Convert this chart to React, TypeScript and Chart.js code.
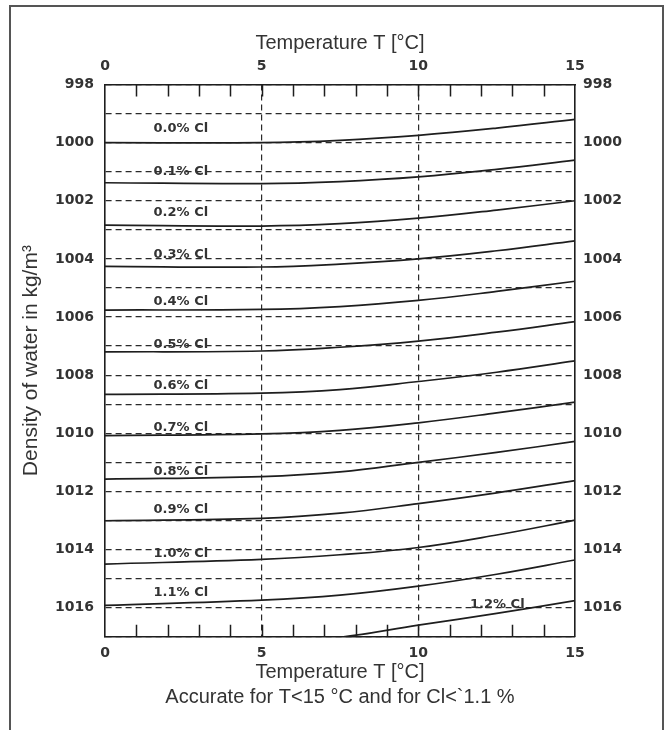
import React, { useEffect, useRef } from 'react';
import { Chart, registerables } from 'chart.js';

Chart.register(...registerables);

// Temperatures (°C) at which the curves were read
const temperatures = [0, 5, 7.5, 10, 12.5, 15];

// Density of water (kg/m³) per chloride content
const cl00 = [1000.0, 1000.0, 999.92, 999.75, 999.5, 999.2];
const cl01 = [1001.38, 1001.41, 1001.34, 1001.18, 1000.92, 1000.6];
const cl02 = [1002.84, 1002.87, 1002.79, 1002.6, 1002.32, 1002.0];
const cl03 = [1004.26, 1004.28, 1004.18, 1004.0, 1003.72, 1003.38];
const cl04 = [1005.76, 1005.74, 1005.64, 1005.43, 1005.12, 1004.77];
const cl05 = [1007.2, 1007.17, 1007.04, 1006.83, 1006.52, 1006.16];
const cl06 = [1008.66, 1008.62, 1008.5, 1008.22, 1007.9, 1007.51];
const cl07 = [1010.08, 1010.02, 1009.9, 1009.64, 1009.3, 1008.93];
const cl08 = [1011.58, 1011.49, 1011.33, 1011.0, 1010.66, 1010.28];
const cl09 = [1013.01, 1012.93, 1012.75, 1012.42, 1012.05, 1011.63];
const cl10 = [1014.5, 1014.34, 1014.18, 1013.93, 1013.5, 1012.99];
const cl11 = [1015.92, 1015.74, 1015.57, 1015.26, 1014.85, 1014.36];
const cl12 = [1017.4, 1017.22, 1017.02, 1016.6, 1016.2, 1015.76];

const seriesNames = ['0.0% Cl', '0.1% Cl', '0.2% Cl', '0.3% Cl', '0.4% Cl', '0.5% Cl', '0.6% Cl', '0.7% Cl', '0.8% Cl', '0.9% Cl', '1.0% Cl', '1.1% Cl', '1.2% Cl'];
const seriesValues = [cl00, cl01, cl02, cl03, cl04, cl05, cl06, cl07, cl08, cl09, cl10, cl11, cl12];

// Where each curve label sits (temperature, density)
const labelTemps = [1.55, 1.55, 1.55, 1.55, 1.55, 1.55, 1.55, 1.55, 1.55, 1.55, 1.55, 1.55, 11.65];
const labelDensities = [999.53, 1001.01, 1002.42, 1003.86, 1005.48, 1006.96, 1008.37, 1009.82, 1011.33, 1012.64, 1014.15, 1015.5, 1015.91];

// Axes
const tempMin = 0;
const tempMax = 15;
const densityMin = 998;
const densityMax = 1017;
const tempTickLabels = [0, 5, 10, 15];
const tempDashedLines = [5, 10];

const xTitle = 'Temperature T [°C]';
const noteText = 'Accurate for T<15 °C and for Cl<`1.1 %';
const yTitle = 'Density of water in kg/m³';

const TEXT = '#333333';
const INK = '#1e1e1e';
const tickFont = { family: '"DejaVu Sans", sans-serif', size: 14, weight: 'bold' as const };
const titleFont = { family: '"Liberation Sans", Arial, sans-serif', size: 20, lineHeight: 1.25 };
const yTitleFont = { family: '"Liberation Sans", Arial, sans-serif', size: 21, lineHeight: 1.25 };

const curveLabelsPlugin = {
  id: 'curveLabels',
  afterDatasetsDraw(chart: any) {
    const { ctx, scales } = chart;
    ctx.save();
    ctx.font = 'bold 13px "DejaVu Sans", sans-serif';
    ctx.fillStyle = TEXT;
    ctx.textAlign = 'left';
    ctx.textBaseline = 'middle';
    seriesNames.forEach((name, i) => {
      ctx.fillText(name, scales.x.getPixelForValue(labelTemps[i]), scales.y.getPixelForValue(labelDensities[i]));
    });
    ctx.restore();
  },
};

const innerTicksPlugin = {
  id: 'innerTicks',
  afterDraw(chart: any) {
    const { ctx, chartArea, scales } = chart;
    ctx.save();
    ctx.strokeStyle = INK;
    ctx.lineWidth = 1.5;
    ctx.beginPath();
    scales.x.ticks.forEach((t: any) => {
      if (t.value <= tempMin || t.value >= tempMax) return;
      const px = Math.round(scales.x.getPixelForValue(t.value)) + 0.5;
      ctx.moveTo(px, chartArea.top);
      ctx.lineTo(px, chartArea.top + 12);
      ctx.moveTo(px, chartArea.bottom);
      ctx.lineTo(px, chartArea.bottom - 12);
    });
    ctx.stroke();
    ctx.restore();
  },
};

export default function App() {
  const canvasRef = useRef<HTMLCanvasElement | null>(null);

  useEffect(() => {
    const canvas = canvasRef.current;
    if (!canvas) return;
    const datasets = seriesValues.map((vals, i) => ({
      label: seriesNames[i],
      data: temperatures.map((t, j) => ({ x: t, y: vals[j] })),
      borderColor: INK,
      borderWidth: 1.7,
      pointRadius: 0,
      fill: false,
      tension: 0.4,
    }));

    const xTickCb = (v: any) => (tempTickLabels.includes(Number(v)) ? String(v) : '');
    const yTickCb = (v: any) => (Number(v) % 2 === 0 ? String(v) : '');

    const chart = new Chart(canvas, {
      type: 'line',
      data: { datasets },
      plugins: [curveLabelsPlugin, innerTicksPlugin],
      options: {
        responsive: false,
        animation: false,
        devicePixelRatio: 1,
        layout: { padding: 0 },
        plugins: { legend: { display: false }, tooltip: { enabled: false }, title: { display: false } },
        scales: {
          x: {
            type: 'linear',
            position: 'bottom',
            min: tempMin,
            max: tempMax,
            ticks: { stepSize: 1, autoSkip: false, maxRotation: 0, padding: 8, color: TEXT, font: tickFont, callback: xTickCb },
            grid: {
              drawTicks: false,
              lineWidth: 1.2,
              color: (c: any) => (c.tick && tempDashedLines.includes(c.tick.value) ? '#2a2a2a' : 'rgba(0,0,0,0)'),
            },
            border: { display: true, color: INK, width: 1.6, dash: [6, 4] },
            title: { display: true, text: [xTitle, noteText], color: TEXT, font: titleFont, padding: { top: 0, bottom: 20 } },
            afterFit: (s: any) => { s.height = 93.3; },
          },
          x2: {
            type: 'linear',
            position: 'top',
            min: tempMin,
            max: tempMax,
            ticks: { stepSize: 1, autoSkip: false, maxRotation: 0, padding: 10, color: TEXT, font: tickFont, callback: xTickCb },
            grid: { display: false, drawTicks: false },
            border: { display: true, color: INK, width: 1.6 },
            title: { display: true, text: xTitle, color: TEXT, font: titleFont, padding: { top: 31, bottom: 0 } },
            afterFit: (s: any) => { s.height = 84.5; },
          },
          y: {
            type: 'linear',
            position: 'left',
            reverse: true,
            min: densityMin,
            max: densityMax,
            ticks: { stepSize: 1, autoSkip: false, padding: 11, color: TEXT, font: tickFont, callback: yTickCb },
            grid: { drawTicks: false, lineWidth: 1.2, color: '#2a2a2a' },
            border: { display: true, color: INK, width: 1.6, dash: [6, 4] },
            title: { display: true, text: yTitle, color: TEXT, font: yTitleFont, padding: { top: 18, bottom: 0 } },
            afterFit: (s: any) => { s.width = 105; },
          },
          y2: {
            type: 'linear',
            position: 'right',
            reverse: true,
            min: densityMin,
            max: densityMax,
            ticks: { stepSize: 1, autoSkip: false, padding: 8, color: TEXT, font: tickFont, callback: yTickCb },
            grid: { display: false, drawTicks: false },
            border: { display: true, color: INK, width: 1.6 },
            afterFit: (s: any) => { s.width = 94; },
          },
        },
      } as any,
    });
    return () => chart.destroy();
  }, []);

  return (
    <div style={{ position: 'absolute', left: 0, top: 0, width: 669, height: 730, overflow: 'hidden', background: '#fff' }}>
      <div
        style={{
          position: 'absolute',
          left: 9,
          top: 5,
          width: 655,
          height: 725,
          border: '2px solid #555',
          borderBottom: 'none',
          boxSizing: 'border-box',
        }}
      />
      <canvas ref={canvasRef} width={669} height={730} style={{ position: 'absolute', left: 0, top: 0, width: 669, height: 730 }} />
    </div>
  );
}
